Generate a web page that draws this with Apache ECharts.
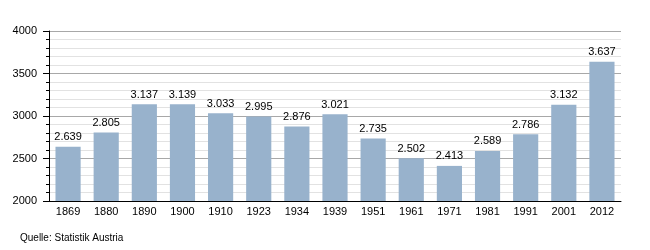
<!DOCTYPE html>
<html><head><meta charset="utf-8">
<script src="https://cdn.jsdelivr.net/npm/echarts@6/dist/echarts.min.js"></script>
<style>html,body{margin:0;padding:0;background:#fff}#c{width:650px;height:250px}</style>
</head><body><div id="c"></div>
<script>
const years = ['1869','1880','1890','1900','1910','1923','1934','1939','1951','1961','1971','1981','1991','2001','2012'];
const population = [2639,2805,3137,3139,3033,2995,2876,3021,2735,2502,2413,2589,2786,3132,3637];
const yTicks = [2000,2500,3000,3500,4000];
const source = 'Quelle: Statistik Austria';

function fmt(v){ const s=String(v); return s.length>3 ? s.slice(0,s.length-3)+'.'+s.slice(-3) : s; }

const chart = echarts.init(document.getElementById('c'), null, {renderer:'canvas'});
chart.setOption({
  animation:false,
  textStyle:{fontFamily:'Liberation Sans, Arial, sans-serif'},
  grid:{left:49,right:29,top:31,bottom:49,containLabel:false},
  xAxis:{type:'category',data:years,
    axisLine:{lineStyle:{color:'#000',width:1}},
    axisTick:{show:false},
    axisLabel:{color:'#000',fontSize:11,margin:5}},
  yAxis:{type:'value',min:yTicks[0],max:yTicks[yTicks.length-1],interval:500,
    axisLine:{show:true,lineStyle:{color:'#000'}},
    axisTick:{show:true,length:6,lineStyle:{color:'#000'}},
    minorTick:{show:true,splitNumber:5,length:3,lineStyle:{color:'#000'}},
    splitLine:{show:true,lineStyle:{color:'#a8a8a8',width:1}},
    minorSplitLine:{show:true,lineStyle:{color:'#e2e2e2',width:1}},
    axisLabel:{color:'#000',fontSize:11,margin:12,formatter:v=>String(v)}},
  series:[{type:'bar',data:population,barCategoryGap:'34%',
    itemStyle:{color:'#98b2cc'},
    label:{show:true,position:'top',color:'#000',fontSize:11,distance:4,formatter:p=>fmt(p.value)}}],
  graphic:[{type:'text',left:20,top:233,style:{text:source,fontSize:10,fill:'#000',fontFamily:'Liberation Sans, Arial, sans-serif'}}]
});
</script></body></html>
